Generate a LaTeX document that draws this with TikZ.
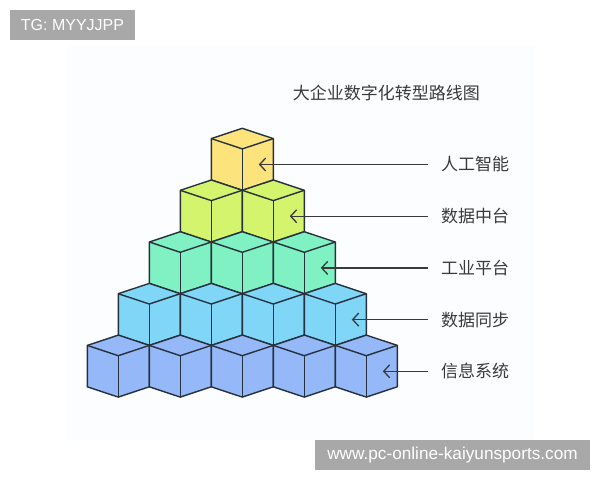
\documentclass[tikz,border=0pt]{standalone}
\usepackage{fontspec}
\setmainfont{Liberation Sans}
\newfontfamily\cjk{Noto Sans CJK SC}
\usetikzlibrary{arrows.meta}
\definecolor{bgc}{HTML}{FCFDFE}
\definecolor{cA}{HTML}{FCE37C}
\definecolor{cB}{HTML}{D3F46C}
\definecolor{cC}{HTML}{80F1C2}
\definecolor{cD}{HTML}{7FD6F6}
\definecolor{cE}{HTML}{95B8F8}
\definecolor{edge}{HTML}{27313D}
\definecolor{txt}{HTML}{3A3A3A}
\definecolor{wmgray}{HTML}{A8A8A8}
\begin{document}
\begin{tikzpicture}[x=1pt,y=-1pt,
  cube/.style={draw=edge, line width=1.4pt, line join=round},
  lbl/.style={font=\cjk\fontsize{17}{20}\selectfont, text=txt, inner sep=0pt, anchor=west},
  arr/.style={draw=txt, line width=1.3pt, -{Straight Barb[length=6pt,width=13pt,line width=1.3pt]}},
  wmbox/.style={fill=wmgray, text=white, inner sep=0pt}
]
\useasboundingbox (0,0) rectangle (600,480);
\fill[white] (0,0) rectangle (600,480);
\fill[bgc] (67,46) rectangle (535,440);
% cubes
\def\w{31}\def\d{10.3}\def\h{41.4}
\foreach \r/\col in {0/cA,1/cB,2/cC,3/cD,4/cE}{
  \foreach \c in {0,...,\r}{
    \pgfmathsetmacro\cx{242.3-31*\r+62*\c}
    \pgfmathsetmacro\cy{128.3+51.7*\r}
    \filldraw[cube, fill=\col] (\cx,\cy) -- ++(\w,\d) -- ++(0,\h) -- ++(-\w,\d) -- ++(-\w,-\d) -- ++(0,-\h) -- cycle;
    \draw[cube] (\cx-\w,\cy+\d) -- (\cx,\cy+2*\d) -- (\cx+\w,\cy+\d);
    \draw[cube] (\cx,\cy+2*\d) -- (\cx,\cy+2*\d+\h);
  }
}
% title
\node[lbl] (title) at (292.7,93.3) {大企业数字化转型路线图};
% labels and arrows
\foreach \r/\t in {0/人工智能,1/数据中台,2/工业平台,3/数据同步,4/信息系统}{
  \coordinate (tip\r) at (258.8+31*\r, 164.5+51.7*\r);
  \node[lbl] (lab\r) at (441, 164.5+51.7*\r) {\t};
  \draw[arr, shorten <=13pt] (lab\r.west) -- (tip\r);
}
% watermarks
\node[wmbox, minimum width=125pt, minimum height=30pt, font=\fontsize{16}{19}\selectfont] (tg) at (72.5,25) {TG: MYYJJPP};
\node[wmbox, minimum width=275pt, minimum height=30pt, font=\fontsize{17.2}{20}\selectfont] (url) at (452.5,455) {www.pc-online-kaiyunsports.com};
\end{tikzpicture}
\end{document}
